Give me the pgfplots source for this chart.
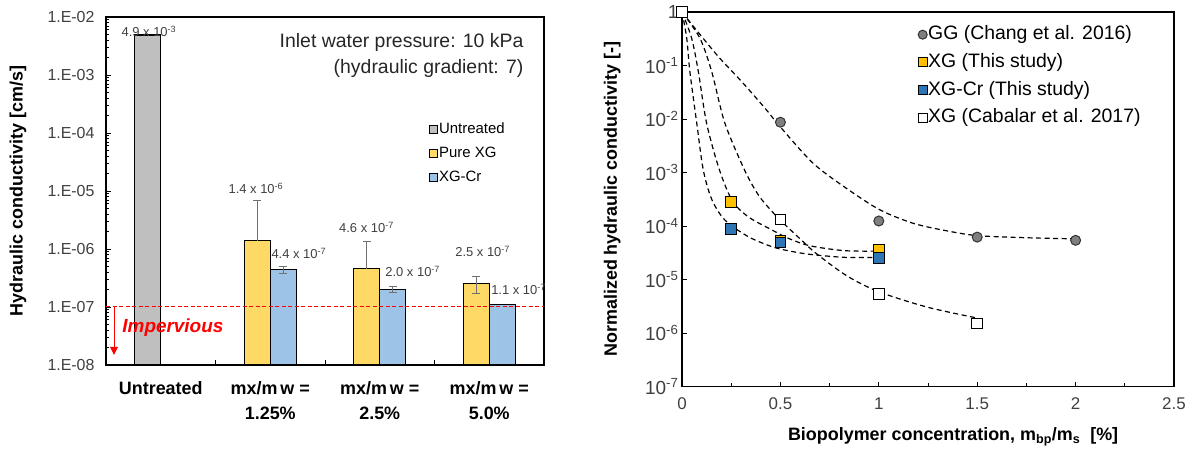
\documentclass[border=0pt]{standalone}
\usepackage{pgfplots}
\pgfplotsset{compat=1.18}
\usepackage{fontspec}
\setmainfont{Liberation Sans}
\usetikzlibrary{arrows.meta}
\definecolor{untr}{HTML}{BFBFBF}
\definecolor{pxg}{HTML}{FFD966}
\definecolor{xgcr}{HTML}{9DC3E6}
\definecolor{ggc}{HTML}{7F7F7F}
\definecolor{xgy}{HTML}{FFC000}
\definecolor{xgb}{HTML}{2E75B6}
\definecolor{txtg}{HTML}{404040}
\definecolor{errg}{HTML}{707070}
\definecolor{imred}{HTML}{FF0000}
\begin{document}
\begin{tikzpicture}[x=1bp,y=1bp]
\path (0,0) rectangle (1193,448);
% ---------------- left chart ----------------
\begin{axis}[
  at={(106bp,83bp)}, anchor=south west, scale only axis,
  width=438bp, height=348bp,
  ymode=log, ymin=1e-8, ymax=1e-2, log origin=infty,
  xmin=-0.5, xmax=3.5, clip=false,
  bar shift=0pt, bar width=0.236,
  xtick={-0.5,0.5,1.5,2.5,3.5}, xticklabels={},
  extra x ticks={0,1,2,3},
  extra x tick labels={Untreated,{mx/m\,w =\\1.25\%},{mx/m\,w =\\2.5\%},{mx/m\,w =\\5.0\%}},
  extra x tick style={major tick length=0pt},
  xticklabel style={font=\fontsize{18}{25}\selectfont\bfseries, align=center, yshift=-13bp},
  ytick={1e-8,1e-7,1e-6,1e-5,1e-4,1e-3,1e-2},
  yticklabels={1.E-08,1.E-07,1.E-06,1.E-05,1.E-04,1.E-03,1.E-02},
  yticklabel style={font=\fontsize{16}{18}\selectfont, text=txtg, xshift=-8bp},
  tick pos=left, tick align=inside,
  major tick length=5bp, minor tick length=3bp,
  every tick/.style={black, line width=0.9bp},
  axis line style={line width=1.4bp},
  ylabel={Hydraulic conductivity [cm/s]},
  every axis y label/.style={at={(axis description cs:-0.201,0.5)}, rotate=90, anchor=center, font=\fontsize{18}{20}\selectfont\bfseries},
  legend style={at={(0.7306,0.707)}, anchor=north west, draw=none, fill=none,
    font=\fontsize{15}{18}\selectfont, row sep=8bp,
    nodes={inner sep=1bp, text height=11bp, text depth=3bp}},
  legend cell align=left,
  legend image code/.code={\draw[#1, draw=black, line width=0.9bp] (0bp,-4bp) rectangle (8bp,4bp);},
]
\addplot[ybar, fill=untr, draw=black, line width=1.1bp] coordinates {(-0.118,4.9e-3)};
\addlegendentry{Untreated}
\addplot[ybar, fill=pxg, draw=black, line width=1.1bp] coordinates {(0.882,1.4e-6) (1.882,4.6e-7) (2.882,2.5e-7)};
\addlegendentry{Pure XG}
\addplot[ybar, fill=xgcr, draw=black, line width=1.1bp] coordinates {(1.118,4.4e-7) (2.118,2.0e-7) (3.118,1.1e-7)};
\addlegendentry{XG-Cr}
% error bars
\addplot[forget plot, draw=none, mark=none, error bars/.cd, y dir=plus, y explicit,
  error bar style={draw=errg, line width=1.1bp}, error mark options={rotate=90, mark size=4bp, draw=errg, line width=1.1bp}]
  coordinates {(0.882,1.4e-6) +- (0,5.4e-6) (1.882,4.6e-7) +- (0,8.8e-7)};
\addplot[forget plot, draw=none, mark=none, error bars/.cd, y dir=both, y explicit,
  error bar style={draw=errg, line width=1.1bp}, error mark options={rotate=90, mark size=4bp, draw=errg, line width=1.1bp}]
  coordinates {(1.118,4.4e-7) +- (0,0.62e-7) (2.118,2.0e-7) +- (0,0.25e-7) (2.882,2.5e-7) +- (0,0.8e-7)};
% impervious line
\draw[imred, dash pattern=on 4bp off 2.5bp, line width=1bp] (axis cs:-0.5,1e-7) -- (axis cs:3.5,1e-7);
\draw[imred, line width=0.9bp, -{Triangle[length=8bp,width=8bp]}] (axis cs:-0.427,1e-7) -- (axis cs:-0.427,1.5e-8);
\node[imred, font=\fontsize{19}{22}\selectfont\bfseries\itshape] at (axis cs:0.111,4.4e-8) {Impervious};
% value labels
\begin{scope}[every node/.style={text=txtg, font=\fontsize{13}{15}\selectfont, inner sep=0pt}]
\node at (axis cs:-0.108,5.58e-3) {4.9 x 10\textsuperscript{-3}};
\node at (axis cs:0.869,1.11e-5) {1.4 x 10\textsuperscript{-6}};
\node at (axis cs:1.261,8.43e-7) {4.4 x 10\textsuperscript{-7}};
\node at (axis cs:1.879,2.37e-6) {4.6 x 10\textsuperscript{-7}};
\node at (axis cs:2.301,4.06e-7) {2.0 x 10\textsuperscript{-7}};
\node at (axis cs:2.94,8.97e-7) {2.5 x 10\textsuperscript{-7}};
\node at (axis cs:3.268,2.02e-7) {1.1 x 10\textsuperscript{-7}};
\end{scope}
\node[anchor=east, font=\fontsize{19.5}{22}\selectfont, text=black!85] at (rel axis cs:0.961,0.928) {Inlet water pressure: 10 kPa};
\node[anchor=east, font=\fontsize{19.5}{22}\selectfont, text=black!85] at (rel axis cs:0.961,0.853) {(hydraulic gradient: 7)};
\end{axis}
% ---------------- right chart ----------------
\begin{axis}[
  at={(682bp,61.5bp)}, anchor=south west, scale only axis,
  width=492bp, height=374.5bp,
  ymode=log, ymin=1e-7, ymax=1, xmin=0, xmax=2.5,
  xtick={0,0.5,1,1.5,2,2.5}, xticklabels={0,0.5,1,1.5,2,2.5},
  minor xtick={0.25,0.75,1.25,1.75,2.25},
  ytick={1e-7,1e-6,1e-5,1e-4,1e-3,1e-2,1e-1,1},
  yticklabels={10\textsuperscript{-7},10\textsuperscript{-6},10\textsuperscript{-5},10\textsuperscript{-4},10\textsuperscript{-3},10\textsuperscript{-2},10\textsuperscript{-1},1},
  yminorticks=false,
  xticklabel style={font=\fontsize{17}{19}\selectfont, text=txtg, yshift=-8bp},
  yticklabel style={font=\fontsize{19}{21}\selectfont, text=txtg},
  tick pos=left, tick align=inside,
  major tick length=5bp, minor tick length=4bp,
  every tick/.style={black, line width=0.9bp},
  axis line style={line width=1.4bp},
  xlabel={Biopolymer concentration, m\textsubscript{bp}/m\textsubscript{s}\ \ [\%]},
  every axis x label/.style={at={(axis description cs:0.551,-0.135)}, anchor=center, font=\fontsize{18}{20}\selectfont\bfseries},
  ylabel={Normalized hydraulic conductivity [-]},
  every axis y label/.style={at={(axis description cs:-0.142,0.5)}, rotate=90, anchor=center, font=\fontsize{18}{20}\selectfont\bfseries},
  legend style={at={(0.4736,0.972)}, anchor=north west, draw=none, fill=none,
    font=\fontsize{19.5}{22}\selectfont, row sep=7.7bp,
    nodes={inner sep=1bp, text height=14bp, text depth=4bp}},
  legend cell align=left,
  legend image code/.code={\draw[#1, mark size=4.5bp] plot coordinates {(5bp,0bp)};},
]
% fitted curves
\addplot[forget plot, smooth, black, dash pattern=on 5bp off 3.5bp, line width=1.2bp] coordinates {
(0,1) (0.066,0.495) (0.185,0.146) (0.303,0.0501) (0.422,0.01585) (0.5,0.00708) (0.667,0.00148) (0.837,5.01e-4) (1.006,2.0e-4) (1.176,1.12e-4) (1.345,8.13e-5) (1.5,6.61e-5) (1.75,6.03e-5) (2.0,5.75e-5)};
\addplot[forget plot, smooth, black, dash pattern=on 5bp off 3.5bp, line width=1.2bp] coordinates {
(0,1) (0.049,0.3236) (0.083,0.0767) (0.125,0.00832) (0.19,0.001122) (0.256,2.95e-4) (0.337,1.48e-4) (0.455,8.51e-5) (0.54,5.89e-5) (0.65,4.27e-5) (0.82,3.47e-5) (0.97,3.39e-5)};
\addplot[forget plot, smooth, black, dash pattern=on 5bp off 3.5bp, line width=1.2bp] coordinates {
(0,1) (0.024,0.3236) (0.04,0.0767) (0.075,0.00832) (0.108,0.001122) (0.151,3.16e-4) (0.218,1.29e-4) (0.337,6.31e-5) (0.46,4.07e-5) (0.55,3.39e-5) (0.65,2.95e-5) (0.82,2.60e-5) (0.97,2.57e-5)};
\addplot[forget plot, smooth, black, dash pattern=on 5bp off 3.5bp, line width=1.2bp] coordinates {
(0,1) (0.091,0.3236) (0.151,0.0767) (0.218,0.00832) (0.32,1.07e-3) (0.388,3.80e-4) (0.45,2.0e-4) (0.508,1.20e-4) (0.6,5.75e-5) (0.684,3.02e-5) (0.837,1.175e-5) (1.0,5.89e-6) (1.25,3.02e-6) (1.5,1.905e-6)};
% data points
\addplot[only marks, mark=*, mark size=5bp, mark options={fill=ggc, draw=black!80, line width=1bp}] coordinates {
(0,1) (0.5,8.7e-3) (1,1.24e-4) (1.5,6.2e-5) (2,5.4e-5)};
\addlegendentry{GG (Chang et al. 2016)}
\addplot[only marks, mark=square*, mark size=5.3bp, mark options={fill=xgy, draw=black, line width=1bp}] coordinates {
(0,1) (0.25,2.84e-4) (0.5,5.4e-5) (1,3.56e-5)};
\addlegendentry{XG (This study)}
\addplot[only marks, mark=square*, mark size=5.3bp, mark options={fill=xgb, draw=black, line width=1bp}] coordinates {
(0,1) (0.25,8.8e-5) (0.5,4.9e-5) (1,2.5e-5)};
\addlegendentry{XG-Cr (This study)}
\addplot[only marks, mark=square*, mark size=5.3bp, mark options={fill=white, draw=black, line width=1bp}] coordinates {
(0,1) (0.5,1.33e-4) (1,5.4e-6) (1.5,1.5e-6)};
\addlegendentry{XG (Cabalar et al. 2017)}
\end{axis}
\end{tikzpicture}
\end{document}
